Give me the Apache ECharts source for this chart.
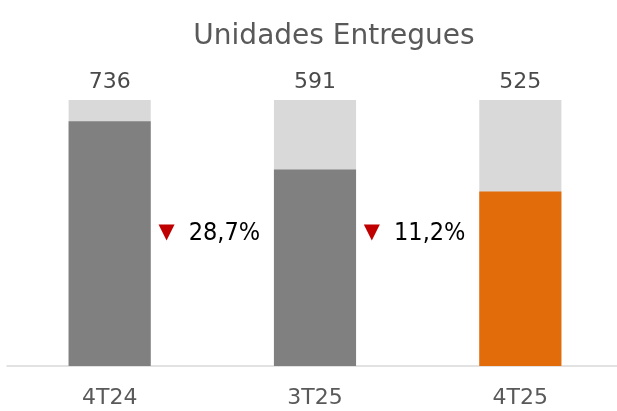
<!DOCTYPE html>
<html>
<head>
    <meta charset="utf-8">
    <title>Unidades Entregues</title>
    <style>
        html, body { margin: 0; padding: 0; background: #fff; overflow: hidden; }
        /* um pouco mais largo que a janela: o eixo passa da borda direita */
        #main { width: 630px; height: 411px; }
    </style>
</head>
<body>
    <div id="main"></div>
    <script src="https://cdn.jsdelivr.net/npm/echarts@6/dist/echarts.min.js"></script>
    <script>
        // dados
        var categorias = ['4T24', '3T25', '4T25'];
        var unidades = [736, 591, 525];
        var eixoMax = 800;

        var cores = ['#808080', '#808080', '#e36c0a'];
        var fonte = 'DejaVu Sans';

        var chart = echarts.init(document.getElementById('main'));

        // variação do último trimestre contra os anteriores
        function variacao(i) {
            var ultimo = unidades[unidades.length - 1];
            return ((1 - ultimo / unidades[i]) * 100).toFixed(1).replace('.', ',') + '%';
        }

        var option = {
            animation: false,
            title: {
                text: 'Unidades Entregues',
                left: 329,
                top: 18,
                textAlign: 'center',
                textStyle: { fontFamily: fonte, fontSize: 28, fontWeight: 'normal', color: '#595959' }
            },
            grid: { left: 7, width: 616, top: 100, bottom: 45 },
            xAxis: {
                type: 'category',
                data: categorias,
                axisLine: { lineStyle: { color: '#d9d9d9', width: 1.5 } },
                axisTick: { show: false },
                axisLabel: { fontFamily: fonte, fontSize: 22, color: '#595959', margin: 21 }
            },
            yAxis: {
                type: 'value', min: 0, max: eixoMax, show: false,
                splitLine: { show: false }
            },
            series: [
                {
                    type: 'bar',
                    barWidth: '40%',
                    showBackground: true,
                    backgroundStyle: { color: '#d9d9d9' },
                    data: unidades.map(function (v, i) {
                        return { value: v, itemStyle: { color: cores[i] } };
                    })
                },
                {
                    // rótulos acima do fundo
                    type: 'scatter',
                    symbolSize: 0,
                    silent: true,
                    data: unidades.map(function (v, i) { return [i, eixoMax]; }),
                    label: {
                        show: true,
                        position: 'top',
                        distance: 7,
                        opacity: 1,
                        fontFamily: fonte, fontSize: 22, color: '#4a4a4a',
                        formatter: function (p) { return unidades[p.dataIndex]; }
                    }
                }
            ]
        };
        chart.setOption(option);

        // setas de variação entre as barras
        var graficos = [];
        for (var i = 0; i < unidades.length - 1; i++) {
            var a = chart.convertToPixel({ xAxisIndex: 0 }, categorias[i]);
            var b = chart.convertToPixel({ xAxisIndex: 0 }, categorias[i + 1]);
            var y = chart.convertToPixel({ yAxisIndex: 0 }, 400);
            graficos.push({
                type: 'text',
                x: (a + b) / 2 - 3,
                y: y,
                style: {
                    text: '{t|▼}{g|}{p|' + variacao(i) + '}',
                    align: 'center',
                    verticalAlign: 'middle',
                    rich: {
                        t: { fontFamily: fonte, fontSize: 21, fill: '#c00000' },
                        g: { width: 14 },
                        p: { fontFamily: 'DejaVu Sans Condensed, Liberation Sans', fontSize: 25, fill: '#000000' }
                    }
                }
            });
        }
        chart.setOption({ graphic: graficos });
    </script>
</body>
</html>
